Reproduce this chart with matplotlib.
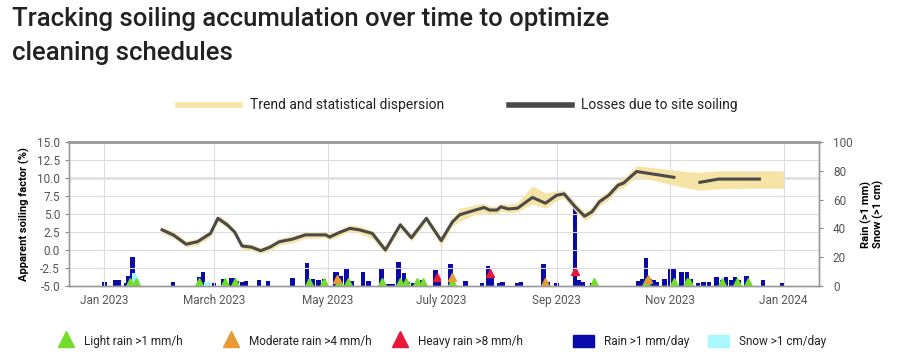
import numpy as np
import pandas as pd
import matplotlib
matplotlib.use("Agg")
import matplotlib.pyplot as plt
from matplotlib.lines import Line2D
from matplotlib.patches import Rectangle

plt.rcParams['font.family'] = ['Roboto', 'DejaVu Sans']

# ------------------------------------------------------------
#   data
# ------------------------------------------------------------
loss_dates = ["2023-02-01", "2023-02-07", "2023-02-14", "2023-02-20", "2023-02-27",
              "2023-03-03", "2023-03-08", "2023-03-12", "2023-03-16", "2023-03-21",
              "2023-03-26", "2023-03-31", "2023-04-05", "2023-04-12", "2023-04-19",
              "2023-04-30", "2023-05-02", "2023-05-07", "2023-05-13", "2023-05-18",
              "2023-05-25", "2023-06-01", "2023-06-09", "2023-06-15", "2023-06-23",
              "2023-07-01", "2023-07-07", "2023-07-11", "2023-07-18", "2023-07-24",
              "2023-07-27", "2023-07-31", "2023-08-02", "2023-08-06", "2023-08-11",
              "2023-08-19", "2023-08-26", "2023-09-01", "2023-09-05", "2023-09-11",
              "2023-09-16", "2023-09-20", "2023-09-24", "2023-09-29", "2023-10-04",
              "2023-10-07", "2023-10-14", "2023-11-03", "2023-11-10", "2023-11-17",
              "2023-11-27", "2023-12-19"]
loss_values = [2.8, 2.1, 0.8, 1.15, 2.3,
               4.4, 3.5, 2.5, 0.55, 0.4,
               -0.1, 0.4, 1.15, 1.5, 2.1,
               2.1, 1.8, 2.4, 3.0, 2.8,
               2.3, 0.0, 3.5, 1.7, 4.4,
               1.3, 3.9, 4.9, 5.45, 5.9,
               5.55, 5.55, 6.0, 5.7, 5.8,
               7.3, 6.5, 7.6, 7.8, 6.0,
               4.7, 5.3, 6.7, 7.6, 9.0,
               9.3, 10.9, 10.1, np.nan, 9.4,
               9.85, 9.85]

band_dates = loss_dates + ["2024-01-01"]
band_low = [2.3, 1.7, 0.4, 0.7, 1.8,
            3.9, 3.1, 2.0, 0.1, -0.1,
            -0.5, -0.1, 0.7, 1.0, 1.6,
            1.7, 1.4, 1.9, 2.6, 2.3,
            1.6, -0.5, 3.0, 1.2, 3.9,
            0.6, 3.3, 4.0, 4.8, 5.2,
            5.0, 5.0, 5.4, 5.2, 5.3,
            6.4, 5.8, 6.9, 7.2, 5.4,
            4.1, 4.7, 6.1, 7.0, 8.4,
            8.7, 10.2, 9.0, 8.6, 8.3,
            8.5, 8.6, 8.6]
band_high = [3.2, 2.6, 1.3, 1.6, 2.7,
             4.8, 4.0, 2.9, 1.0, 0.8,
             0.3, 0.8, 1.6, 2.0, 2.5,
             2.5, 2.3, 2.8, 3.5, 3.3,
             2.7, 0.5, 3.9, 2.2, 4.8,
             1.8, 4.3, 5.8, 6.2, 6.5,
             6.1, 6.1, 6.5, 6.3, 6.6,
             8.9, 7.9, 8.2, 8.3, 6.6,
             5.3, 5.9, 7.3, 8.2, 9.6,
             10.0, 11.7, 11.1, 10.9, 10.8,
             11.0, 11.0, 11.0]

rain_dates = ["2023-01-01", "2023-01-07", "2023-01-09", "2023-01-13", "2023-01-14",
              "2023-01-16", "2023-01-17", "2023-02-07", "2023-02-21", "2023-02-23",
              "2023-03-01", "2023-03-06", "2023-03-10", "2023-03-11", "2023-03-13",
              "2023-03-16", "2023-03-18", "2023-03-25", "2023-03-30", "2023-04-12",
              "2023-04-20", "2023-04-23", "2023-04-26", "2023-04-29", "2023-05-05",
              "2023-05-06", "2023-05-08", "2023-05-11", "2023-05-14", "2023-05-20",
              "2023-05-23", "2023-05-30", "2023-06-01", "2023-06-03", "2023-06-05",
              "2023-06-08", "2023-06-11", "2023-06-13", "2023-06-16", "2023-06-21",
              "2023-06-28", "2023-06-30", "2023-07-06", "2023-07-14", "2023-07-23",
              "2023-07-26", "2023-07-28", "2023-08-01", "2023-08-03", "2023-08-11",
              "2023-08-13", "2023-08-25", "2023-08-27", "2023-09-01", "2023-09-11",
              "2023-09-13", "2023-09-15", "2023-09-20", "2023-10-15", "2023-10-17",
              "2023-10-19", "2023-10-21", "2023-10-23", "2023-10-25", "2023-10-29",
              "2023-11-01", "2023-11-03", "2023-11-07", "2023-11-10", "2023-11-12",
              "2023-11-16", "2023-11-19", "2023-11-22", "2023-11-26", "2023-11-29",
              "2023-12-01", "2023-12-04", "2023-12-06", "2023-12-08", "2023-12-12",
              "2023-12-21", "2023-12-31"]
rain_values = [3, 4, 4, 2, 7,
               20, 6, 3, 6.5, 10,
               2, 5, 5.5, 5.5, 3.5,
               3, 3.5, 4.5, 3.5, 5.5,
               16, 5, 4.5, 5, 10,
               10, 7, 11.5, 3.5, 9.5,
               3.5, 12.7, 1.5, 1.5, 1.5,
               17, 9, 3, 2, 4.5,
               11, 4, 15, 3.5, 2,
               14, 7, 2, 2.5, 2,
               2.5, 15, 2.5, 2, 54,
               4, 3, 2, 3.5, 5,
               19.5, 5, 4, 3, 5,
               12.5, 12.3, 10, 10, 5,
               2, 2.5, 3, 6, 4,
               6, 4, 6.5, 4, 7,
               4, 2]

snow_dates = ["2023-01-17", "2023-01-18", "2023-01-19", "2023-02-25", "2023-02-26"]
snow_values = [9, 7, 5, 3, 3]

light_dates = ["2023-01-15", "2023-01-18", "2023-02-21", "2023-03-07", "2023-03-12",
               "2023-04-21", "2023-04-29", "2023-05-07", "2023-05-12", "2023-05-30",
               "2023-06-09", "2023-06-12", "2023-06-18", "2023-06-21", "2023-07-07",
               "2023-09-21", "2023-10-19", "2023-11-03", "2023-11-10", "2023-11-11",
               "2023-11-29", "2023-12-07", "2023-12-13"]
moderate_dates = ["2023-05-06", "2023-07-07", "2023-08-26", "2023-10-20"]
moderate_values = [5, 6, 3, 5]
heavy_dates = ["2023-06-29", "2023-07-27", "2023-09-11"]
heavy_values = [6, 9, 10.5]

x_ticks = ["2023-01-01", "2023-03-01", "2023-05-01", "2023-07-01",
           "2023-09-01", "2023-11-01", "2024-01-01"]
x_labels = ["Jan 2023", "March 2023", "May 2023", "July 2023",
            "Sep 2023", "Nov 2023", "Jan 2024"]

# ------------------------------------------------------------
#   colours
# ------------------------------------------------------------
BAND = "#f6e4a6"
LINE = "#4a4a4a"
RAIN = "#0a0aaa"
SNOW = "#aaf8ff"
GREEN = "#72dd2a"
ORANGE = "#e89a35"
RED = "#e8183a"
TICK = "#555555"

W, H = 903, 355
fig = plt.figure(figsize=(W / 100, H / 100), dpi=100)


def fx(x):
    return x / W


def fy(y):
    return 1 - y / H


ax = fig.add_axes([fx(69), fy(286), fx(750), 144 / H])
ax2 = ax.twinx()

to_dt = pd.to_datetime

# rain / snow on the right axis (drawn below the soiling line)
ax2.bar(to_dt(rain_dates), rain_values, width=2.4, color=RAIN, zorder=2)
ax2.bar(to_dt(snow_dates), snow_values, width=2.4, color=SNOW, zorder=3)
ax2.plot(to_dt(light_dates), [2.5] * len(light_dates), ls="none", marker="^",
         ms=5.5, color=GREEN, zorder=4)
ax2.plot(to_dt(moderate_dates), moderate_values, ls="none", marker="^",
         ms=5.5, color=ORANGE, zorder=4)
ax2.plot(to_dt(heavy_dates), heavy_values, ls="none", marker="^",
         ms=5.5, color=RED, zorder=4)
ax2.set_ylim(0, 100)
ax2.set_yticks([0, 20, 40, 60, 80, 100])
ax2.tick_params(axis="y", labelsize=8.5, colors="#888888", labelcolor=TICK,
                length=3, pad=7)
ax2.set_ylabel("Rain (>1 mm)\nSnow (>1 cm)", fontsize=8, fontweight="bold",
               labelpad=6, linespacing=1.05)

# soiling trend on the left axis, on top
ax.set_zorder(ax2.get_zorder() + 1)
ax.patch.set_visible(False)
ax.fill_between(to_dt(band_dates), band_low, band_high, color=BAND, lw=0, zorder=2)
ax.plot(to_dt(loss_dates), loss_values, color=LINE, lw=2.2, zorder=3)
ax.axhline(10, color="#888888", lw=1, zorder=1)

ax.set_ylim(-5, 15)
ax.set_yticks(np.arange(-5, 15.1, 2.5))
ax.set_yticklabels([f"{v:.1f}" for v in np.arange(-5, 15.1, 2.5)])
ax.set_xlim(to_dt("2022-12-13"), to_dt("2024-01-20"))
ax.set_xticks(to_dt(x_ticks))
ax.set_xticklabels(x_labels)
ax.tick_params(axis="both", labelsize=8.5, colors="#888888", labelcolor=TICK, length=3)
ax.tick_params(axis="x", length=0, pad=6)
ax.grid(True, color="#dddddd", lw=0.8, zorder=0)
ax.set_ylabel("Apparent soiling factor (%)", fontsize=8, fontweight="bold", labelpad=5)

for a in (ax, ax2):
    for s in a.spines.values():
        s.set_color("#999999")
        s.set_linewidth(1)
ax.spines["top"].set_linewidth(2)

# ------------------------------------------------------------
#   title
# ------------------------------------------------------------
fig.text(fx(12), fy(7), "Tracking soiling accumulation over time to optimize\ncleaning schedules",
         fontsize=18.5, fontweight="medium", color="#222222", va="top", ha="left",
         linespacing=1.55)

# ------------------------------------------------------------
#   top legend
# ------------------------------------------------------------
fig.add_artist(Line2D([fx(178), fx(240)], [fy(105), fy(105)], color=BAND, lw=4,
                      transform=fig.transFigure))
fig.text(fx(250), fy(105), "Trend and statistical dispersion", fontsize=10,
         va="center", color="#222222")
fig.add_artist(Line2D([fx(509), fx(572)], [fy(105), fy(105)], color=LINE, lw=4,
                      transform=fig.transFigure))
fig.text(fx(581), fy(105), "Losses due to site soiling", fontsize=10,
         va="center", color="#222222")

# ------------------------------------------------------------
#   bottom legend
# ------------------------------------------------------------
tri_items = [(66, GREEN, "Light rain >1 mm/h"),
             (231, ORANGE, "Moderate rain >4 mm/h"),
             (400, RED, "Heavy rain >8 mm/h")]
for x, c, lab in tri_items:
    fig.add_artist(Line2D([fx(x)], [fy(339)], marker="^", ms=12, color=c, ls="none",
                          transform=fig.transFigure))
    fig.text(fx(x + 18), fy(341), lab, fontsize=8.5, va="center", color="#222222")

box_items = [(573, RAIN, "Rain >1 mm/day"),
             (708, SNOW, "Snow >1 cm/day")]
for x, c, lab in box_items:
    fig.add_artist(Rectangle((fx(x), fy(347)), fx(21), 12 / H, color=c,
                             transform=fig.transFigure))
    fig.text(fx(x + 31), fy(341), lab, fontsize=8.5, va="center", color="#222222")

fig.savefig("out.png", dpi=100)
